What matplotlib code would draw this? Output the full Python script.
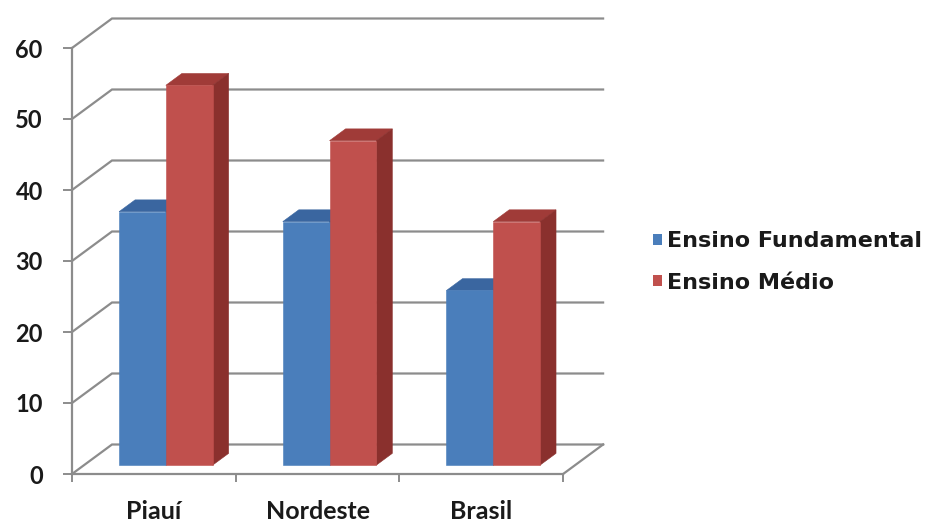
import matplotlib
matplotlib.use("Agg")
import matplotlib.pyplot as plt
from matplotlib.patches import Polygon, Patch

# Data
categories = ["Piauí", "Nordeste", "Brasil"]
series_names = ["Ensino Fundamental", "Ensino Médio"]
fundamental = [35.7, 34.3, 24.6]
medio = [53.5, 45.7, 34.3]
y_ticks = [0, 10, 20, 30, 40, 50, 60]

# Styles
front_colors = ["#4A7EBB", "#C0504D"]
top_colors = ["#3A66A0", "#A03B38"]
side_colors = ["#30578A", "#8A302D"]
grid_color = "#8C8C8C"
text_color = "#1A1A1A"
plt.rcParams["font.family"] = ["Lato", "DejaVu Sans"]

W, H, DPI = 930, 523, 100
fig = plt.figure(figsize=(W / DPI, H / DPI), dpi=DPI)
ax = fig.add_axes([0, 0, 1, 1])

# pixel scale of one category / one value unit, and origin of the front axes
px_x, px_y = 163.7, 7.1
x0px, y0px = 72, 49
ax.set_xlim(-x0px / px_x, (W - x0px) / px_x)
ax.set_ylim(-y0px / px_y, (H - y0px) / px_y)

n_cat = len(categories)
# oblique depth vector of the 3-D box (in data units)
DX = 40 / px_x
DY = 29.5 / px_y

# back wall and side wall gridlines
for v in y_ticks:
    ax.plot([0, DX, n_cat + DX], [v, v + DY, v + DY], color=grid_color,
            lw=1.6, solid_joinstyle="miter", zorder=1)
# right edge of the floor
ax.plot([n_cat, n_cat + DX], [0, DY], color=grid_color, lw=1.6, zorder=1)

# axes spines as the front edges of the box
for s in ["top", "right"]:
    ax.spines[s].set_visible(False)
ax.spines["left"].set_position(("data", 0))
ax.spines["bottom"].set_position(("data", 0))
ax.spines["left"].set_bounds(0, max(y_ticks))
ax.spines["bottom"].set_bounds(0, n_cat)
for s in ["left", "bottom"]:
    ax.spines[s].set_color(grid_color)
    ax.spines[s].set_linewidth(1.6)

ax.set_yticks(y_ticks)
ax.set_yticklabels([str(t) for t in y_ticks])
ax.set_xticks(range(n_cat + 1))
ax.set_xticklabels([])
ax.set_xticks([i + 0.5 for i in range(n_cat)], minor=True)
ax.set_xticklabels(categories, minor=True)
ax.tick_params(axis="y", direction="out", length=6.5, width=1.4, color=grid_color,
               pad=14.5, labelsize=17, labelcolor=text_color)
ax.tick_params(axis="x", which="major", direction="out", length=6, width=1.4,
               color=grid_color)
ax.tick_params(axis="x", which="minor", length=0, pad=19, labelsize=18,
               labelcolor=text_color)
for lbl in ax.get_yticklabels() + ax.get_xticklabels(minor=True):
    lbl.set_fontweight("bold")

# 3-D clustered columns
n_ser = 2
w = 1 / (n_ser + 1.5)          # gap width 150 %
f0, f1 = 0.3, 0.7              # depth of the column inside the box
dDX, dDY = (f1 - f0) * DX, (f1 - f0) * DY
for j, vals in enumerate([fundamental, medio]):
    lefts = [i + 0.5 - w + j * w + f0 * DX for i in range(n_cat)]
    base = f0 * DY
    for xl, v in zip(lefts, vals):
        top = Polygon([(xl, v + base), (xl + w, v + base),
                       (xl + w + dDX, v + base + dDY), (xl + dDX, v + base + dDY)],
                      closed=True, facecolor=top_colors[j], edgecolor=top_colors[j],
                      lw=0.4, zorder=2 + 2 * j)
        side = Polygon([(xl + w, base), (xl + w + dDX, base + dDY),
                        (xl + w + dDX, v + base + dDY), (xl + w, v + base)],
                       closed=True, facecolor=side_colors[j], edgecolor=side_colors[j],
                       lw=0.4, zorder=2 + 2 * j)
        ax.add_patch(top)
        ax.add_patch(side)
    ax.bar(lefts, vals, width=w, bottom=base, align="edge", color=front_colors[j],
           edgecolor=front_colors[j], lw=0.4, zorder=3 + 2 * j)

# legend
handles = [Patch(facecolor=front_colors[k], edgecolor="none") for k in range(n_ser)]
fig.legend(handles, series_names, loc="center left",
           bbox_to_anchor=(653 / W, 1 - 262 / H), frameon=False,
           handlelength=0.42, handleheight=0.42, handletextpad=0.22,
           labelspacing=0.95, borderaxespad=0, borderpad=0,
           prop={"family": ["DejaVu Sans"], "weight": "bold", "size": 16},
           labelcolor=text_color)

fig.savefig("out.png", dpi=DPI)
